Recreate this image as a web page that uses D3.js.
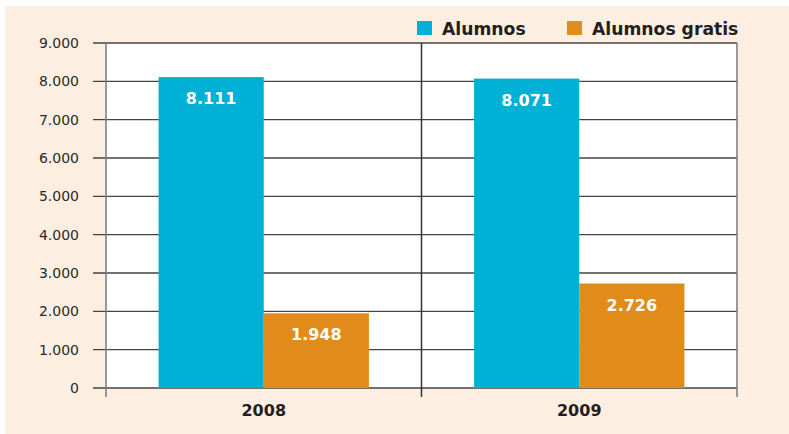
<!DOCTYPE html>
<html><head><meta charset="utf-8">
<script src="https://cdn.jsdelivr.net/npm/d3@7"></script>
<style>html,body{margin:0;padding:0;background:#fff;}svg{display:block;}</style>
</head><body>
<svg id="chart" width="789" height="434"></svg>
<script>
const categories = ["2008", "2009"];
const seriesNames = ["Alumnos", "Alumnos gratis"];
const alumnos = [8111, 8071];
const alumnosGratis = [1948, 2726];
const yTicks = [0, 1000, 2000, 3000, 4000, 5000, 6000, 7000, 8000, 9000];
const colors = ["#00b0d5", "#e08b1a"];

const svg = d3.select("#chart");
const font = "'DejaVu Sans', sans-serif";
svg.append("rect").attr("x", 5).attr("y", 6).attr("width", 784).attr("height", 428).attr("fill", "#fcefe2");

const m = {left: 106, right: 737, top: 43, bottom: 388};
const x = d3.scaleBand().domain(categories).range([m.left, m.right]).paddingInner(0).paddingOuter(0);
const xs = d3.scaleBand().domain(seriesNames).range([0, x.bandwidth()]).paddingOuter(0.5).paddingInner(0);
const y = d3.scaleLinear().domain([0, 9000]).range([m.bottom, m.top]);
const fmt = v => d3.format(",")(v).replace(/,/g, ".");

svg.append("rect").attr("x", m.left).attr("y", m.top).attr("width", m.right - m.left).attr("height", m.bottom - m.top).attr("fill", "#fff");

// gridlines
svg.append("g").selectAll("line").data(yTicks).join("line")
  .attr("x1", m.left - 13).attr("x2", m.right)
  .attr("y1", d => y(d)).attr("y2", d => y(d))
  .attr("stroke", "#444").attr("stroke-width", 1.3);

// vertical lines
const vlines = [m.left, x("2009"), m.right];
svg.append("g").selectAll("line").data(vlines).join("line")
  .attr("x1", d => d).attr("x2", d => d)
  .attr("y1", m.top).attr("y2", m.bottom + 9)
  .attr("stroke", (d, i) => i === 1 ? "#333" : "#7a7a7a").attr("stroke-width", 1.5);

// y labels
svg.append("g").selectAll("text").data(yTicks).join("text")
  .attr("x", 79).attr("y", d => y(d)).attr("dy", "0.36em")
  .attr("text-anchor", "end").attr("font-family", font).attr("font-size", 14)
  .attr("fill", "#2a2a2a").text(d => fmt(d));

// bars
const data = categories.map((c, i) => ({cat: c, vals: [alumnos[i], alumnosGratis[i]]}));
const groups = svg.append("g").selectAll("g").data(data).join("g")
  .attr("transform", d => `translate(${x(d.cat)},0)`);
groups.selectAll("rect").data(d => d.vals.map((v, j) => ({v, s: seriesNames[j], j}))).join("rect")
  .attr("x", d => xs(d.s)).attr("width", xs.bandwidth())
  .attr("y", d => y(d.v)).attr("height", d => m.bottom - y(d.v))
  .attr("fill", d => colors[d.j]);
groups.selectAll("text").data(d => d.vals.map((v, j) => ({v, s: seriesNames[j], j}))).join("text")
  .attr("x", d => xs(d.s) + xs.bandwidth() / 2).attr("y", d => y(d.v) + 27)
  .attr("text-anchor", "middle").attr("font-family", font).attr("font-weight", "bold")
  .attr("font-size", 16).attr("fill", "#fff").text(d => fmt(d.v));

// x labels
svg.append("g").selectAll("text").data(categories).join("text")
  .attr("x", d => x(d) + x.bandwidth() / 2).attr("y", 416)
  .attr("text-anchor", "middle").attr("font-family", font).attr("font-weight", "bold")
  .attr("font-size", 16).attr("fill", "#231f20").text(d => d);

// legend
const legX = [417, 567];
const leg = svg.append("g").selectAll("g").data(seriesNames).join("g")
  .attr("transform", (d, i) => `translate(${legX[i]},21)`);
leg.append("rect").attr("width", 15).attr("height", 14).attr("fill", (d, i) => colors[i]);
leg.append("text").attr("x", 25).attr("y", 14).attr("font-family", font).attr("font-weight", "bold")
  .attr("font-size", 17.2).attr("fill", "#231f20").text(d => d);
</script>
</body></html>
